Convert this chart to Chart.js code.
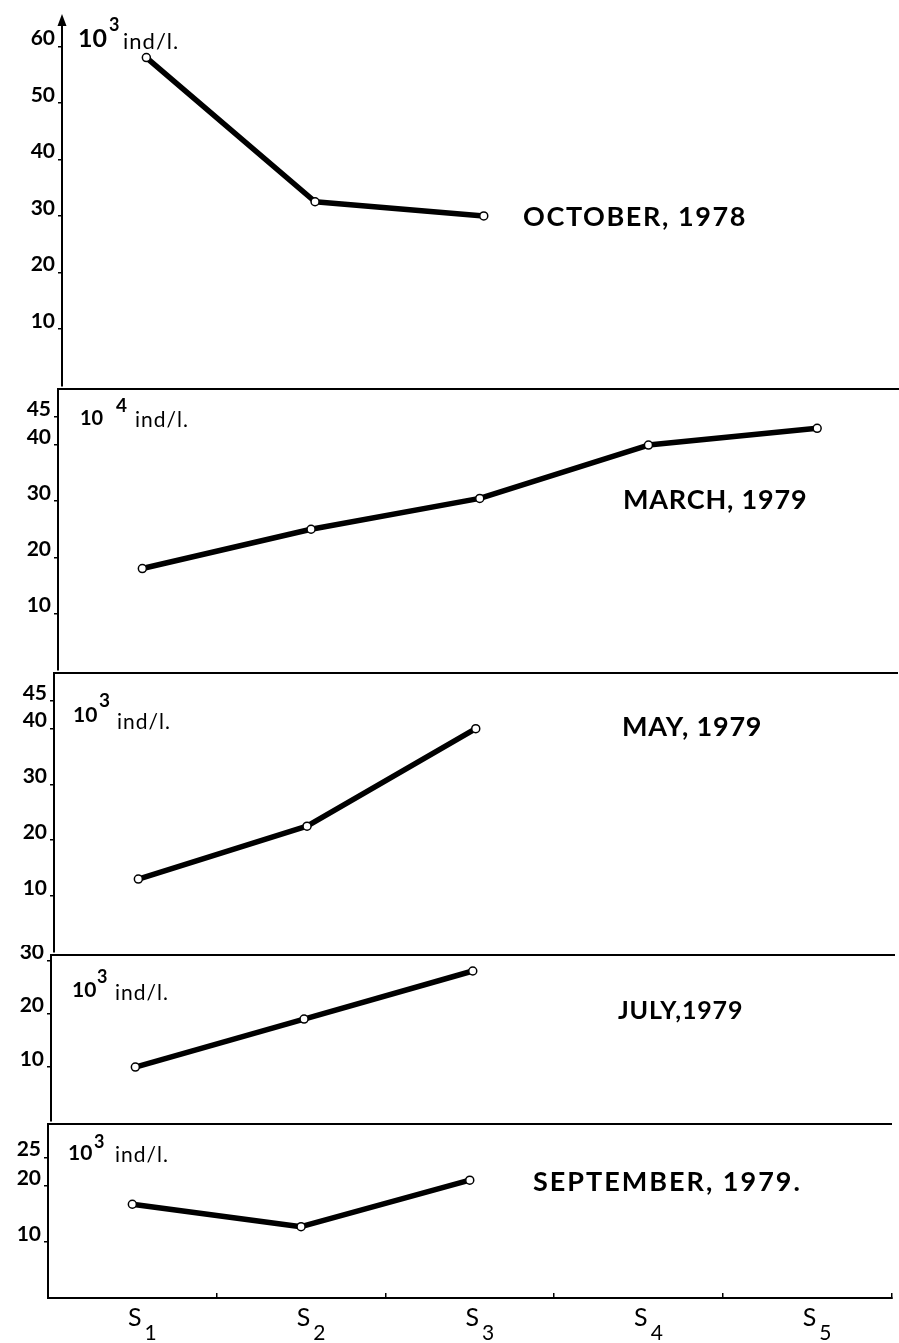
<!DOCTYPE html>
<html>
<head>
<meta charset="utf-8">
<script src="https://cdn.jsdelivr.net/npm/chart.js@4.4.0/dist/chart.umd.min.js"></script>
<style>
  html, body { margin: 0; padding: 0; background: #fff; overflow: hidden; }
  #wrap { position: relative; width: 899px; height: 1343px; overflow: hidden; background: #fff; }
  #wrap canvas { position: absolute; }
</style>
</head>
<body>
<div id="wrap"></div>
<script>
// ---------------- data ----------------
const stationNames = ['S', 'S', 'S', 'S', 'S'];
const stationNumbers = ['1', '2', '3', '4', '5'];
const stations = ['S1', 'S2', 'S3', 'S4', 'S5'];
const panelTitles = ['OCTOBER, 1978', 'MARCH, 1979', 'MAY, 1979', 'JULY,1979', 'SEPTEMBER, 1979.'];
const unitExponents = ['3', '4', '3', '3', '3'];
const unitText = 'ind/l.';

const octoberValues   = [58, 32.5, 30];
const marchValues     = [18, 25, 30.5, 40, 43];
const mayValues       = [13, 22.5, 40];
const julyValues      = [10, 19, 28];
const septemberValues = [16.7, 12.7, 21];

const octoberTicks   = [10, 20, 30, 40, 50, 60];
const marchTicks     = [10, 20, 30, 40, 45];
const mayTicks       = [10, 20, 30, 40, 45];
const julyTicks      = [10, 20, 30];
const septemberTicks = [10, 20, 25];

// ---------------- layout / style ----------------
const FONT = 'Lato, "DejaVu Sans", sans-serif';
const plotWidth = 845;

const panels = [
  { values: octoberValues, ticks: octoberTicks, max: 65, left: 62, top: 18, bottom: 389, padTop: 18,
    arrow: true, topLine: false, xLabels: false,
    title: { x: 523, y: 226, size: 27, spacing: 1.6 },
    unit: { bx: 78, by: 47, bs: 25, ex: 109, ey: 31, es: 18, ux: 123, uy: 49, us: 22 } },
  { values: marchValues, ticks: marchTicks, max: 50, left: 58, top: 389, bottom: 673, padTop: 10,
    arrow: false, topLine: true, xLabels: false,
    title: { x: 623, y: 509, size: 27, spacing: 0.8 },
    unit: { bx: 80, by: 425, bs: 20, ex: 116, ey: 412, es: 19, ux: 135, uy: 427, us: 21 } },
  { values: mayValues, ticks: mayTicks, max: 50, left: 54, top: 673, bottom: 955, padTop: 10,
    arrow: false, topLine: true, xLabels: false,
    title: { x: 622, y: 736, size: 27, spacing: 0.8 },
    unit: { bx: 73, by: 722, bs: 21, ex: 99, ey: 707, es: 19, ux: 117, uy: 729, us: 21 } },
  { values: julyValues, ticks: julyTicks, max: 31, left: 51, top: 955, bottom: 1124, padTop: 10,
    arrow: false, topLine: true, xLabels: false,
    title: { x: 618, y: 1019, size: 25, spacing: 0.8 },
    unit: { bx: 72, by: 997, bs: 21, ex: 97, ey: 983, es: 18, ux: 115, uy: 1000, us: 21 } },
  { values: septemberValues, ticks: septemberTicks, max: 31, left: 48, top: 1124, bottom: 1298, padTop: 10,
    arrow: false, topLine: true, xLabels: true,
    title: { x: 533, y: 1191, size: 27, spacing: 2 },
    unit: { bx: 68, by: 1160, bs: 21, ex: 94, ey: 1148, es: 18, ux: 115, uy: 1162, us: 21 } }
];

const xLabelStyle = { sSize: 25, subSize: 21, sBaseline: 1326, subBaseline: 1340, dx: 10, gap: 3 };

// plugin: panel annotations (title, unit label, axis arrow, station labels)
const panelTextPlugin = {
  id: 'panelText',
  afterDraw(chart, args, opts) {
    const ctx = chart.ctx;
    const off = opts.canvasTop;
    ctx.save();
    ctx.fillStyle = '#000';
    ctx.textBaseline = 'alphabetic';
    ctx.textAlign = 'left';
    const ls = v => { if ('letterSpacing' in ctx) ctx.letterSpacing = v + 'px'; };
    // title
    ctx.font = 'bold ' + opts.title.size + 'px ' + FONT;
    ls(opts.title.spacing);
    ctx.fillText(opts.titleText, opts.title.x, opts.title.y - off);
    ls(0);
    // unit label 10^n ind/l.
    const u = opts.unit;
    ctx.font = 'bold ' + u.bs + 'px ' + FONT;
    ctx.fillText('10', u.bx, u.by - off);
    ctx.font = 'bold ' + u.es + 'px ' + FONT;
    ctx.fillText(opts.exponent, u.ex, u.ey - off);
    ctx.font = u.us + 'px ' + FONT;
    ls(1);
    ctx.fillText(unitText, u.ux, u.uy - off);
    ls(0);
    // arrow on top of the y axis
    if (opts.arrow) {
      const a = chart.chartArea;
      ctx.beginPath();
      ctx.moveTo(a.left, a.top - 4);
      ctx.lineTo(a.left - 4.5, a.top + 8);
      ctx.lineTo(a.left + 4.5, a.top + 8);
      ctx.closePath();
      ctx.fill();
    }
    // station labels S with large subscript
    if (opts.xLabels) {
      const xs = chart.scales.x;
      const st = xLabelStyle;
      stationNames.forEach((name, i) => {
        ctx.font = st.sSize + 'px ' + FONT;
        const wS = ctx.measureText(name).width;
        ctx.font = st.subSize + 'px ' + FONT;
        const wN = ctx.measureText(stationNumbers[i]).width;
        const total = wS + st.gap + wN;
        const x0 = xs.getPixelForValue(i) + st.dx - total / 2;
        ctx.font = st.sSize + 'px ' + FONT;
        ctx.fillText(name, x0, st.sBaseline - off);
        ctx.font = st.subSize + 'px ' + FONT;
        ctx.fillText(stationNumbers[i], x0 + wS + st.gap, st.subBaseline - off);
      });
    }
    ctx.restore();
  }
};

const noPad = s => { s.paddingTop = 0; s.paddingBottom = 0; s.paddingLeft = 0; s.paddingRight = 0; };

const wrap = document.getElementById('wrap');

panels.forEach((p, i) => {
  const xAxisH = p.xLabels ? 45 : 0;
  const padBottom = p.xLabels ? 0 : 2;
  const canvasTop = p.top - p.padTop;
  const height = p.padTop + (p.bottom - p.top) + xAxisH + padBottom;
  const width = p.left + plotWidth + 4;
  const c = document.createElement('canvas');
  c.width = width; c.height = height;
  c.style.left = '0px'; c.style.top = canvasTop + 'px';
  c.style.width = width + 'px'; c.style.height = height + 'px';
  wrap.appendChild(c);

  new Chart(c, {
    type: 'line',
    data: {
      labels: stations,
      datasets: [{
        data: p.values,
        borderColor: '#000',
        borderWidth: 5.5,
        borderJoinStyle: 'round',
        pointRadius: 4,
        pointBackgroundColor: '#fff',
        pointBorderColor: '#000',
        pointBorderWidth: 1.5,
        tension: 0,
        clip: false,
        xAxisID: 'x',
        yAxisID: 'y'
      }]
    },
    options: {
      responsive: false,
      animation: false,
      devicePixelRatio: 1,
      layout: { padding: { top: p.padTop, bottom: padBottom, left: 0, right: 4 } },
      plugins: {
        legend: { display: false },
        tooltip: { enabled: false },
        title: { display: false },
        panelText: {
          canvasTop: canvasTop,
          titleText: panelTitles[i],
          exponent: unitExponents[i],
          title: p.title,
          unit: p.unit,
          arrow: p.arrow,
          xLabels: p.xLabels
        }
      },
      scales: {
        x: {
          type: 'category',
          position: 'bottom',
          offset: true,
          display: p.xLabels,
          grid: { display: true, offset: true, drawOnChartArea: false, drawTicks: true, tickLength: -5, color: '#000', lineWidth: 1.5 },
          border: { display: true, color: '#000', width: 2 },
          ticks: { display: false },
          afterFit: s => { s.height = xAxisH; noPad(s); }
        },
        xt: {
          type: 'category',
          position: 'top',
          offset: true,
          display: p.topLine,
          grid: { display: false },
          border: { display: true, color: '#000', width: 2 },
          ticks: { display: false },
          afterFit: s => { s.height = 0; noPad(s); }
        },
        y: {
          type: 'linear',
          position: 'left',
          min: 0,
          max: p.max,
          afterBuildTicks: s => { s.ticks = p.ticks.map(v => ({ value: v })); },
          afterFit: s => { s.width = p.left; noPad(s); },
          grid: { drawOnChartArea: false, drawTicks: true, tickLength: 4, color: '#000', lineWidth: 1.5 },
          border: { display: true, color: '#000', width: 2 },
          ticks: { color: '#000', font: { family: FONT, size: 21, weight: 'bold' }, padding: 3, labelOffset: -8, autoSkip: false }
        }
      }
    },
    plugins: [panelTextPlugin]
  });
});
</script>
</body>
</html>
